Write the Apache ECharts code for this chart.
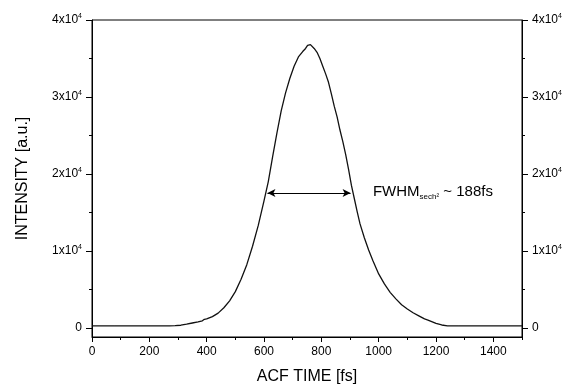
<!DOCTYPE html>
<html>
<head>
<meta charset="utf-8">
<script src="https://cdn.jsdelivr.net/npm/echarts@6/dist/echarts.min.js"></script>
<style>html,body{margin:0;padding:0;background:#fff}#c{width:565px;height:385px}</style>
</head>
<body>
<div id="c"></div>
<script>
const times = [0,40,80,120,160,200,240,270,290,310,330,350,370,385,392,400,420,440,460,480,500,520,540,560,580,600,615,630,645,660,675,690,705,720,735,745,752,757,762,768,775,785,795,805,815,825,835,845,855,865,875,885,895,905,915,925,935,950,965,980,1000,1020,1040,1060,1080,1100,1120,1140,1160,1165,1172,1185,1200,1220,1240,1280,1350,1420,1500];
const intensity = [240,240,235,240,240,240,245,250,270,330,470,620,760,900,1100,1150,1450,1900,2600,3500,4700,6300,8200,10600,13300,16500,19000,22200,25300,28200,30500,32400,34000,35200,35900,36300,36700,36500,36800,36700,36300,35800,35000,34000,33000,31900,30400,28800,27400,25700,24200,22500,20600,18500,16800,15100,13500,11700,10100,8700,7000,5700,4600,3750,3000,2450,1950,1550,1150,1250,1000,800,560,360,250,245,245,245,245];
const xMajorTicks = [0,200,400,600,800,1000,1200,1400];
const xMinorTicks = [100,300,500,700,900,1100,1300,1500];
const yMajorTicks = [0,10000,20000,30000,40000];
const yMinorTicks = [5000,15000,25000,35000];
const fwhmStart = 612, fwhmEnd = 902, fwhmLevel = 17530;
const fwhmText = ['FWHM', 'sech\u00B2', ' ~ 188fs'];

const FONT = '"Liberation Sans", Arial, sans-serif';
const data = times.map((t, i) => [t, intensity[i]]);

function yFmt(v) {
  if (v === 0) return '{b|0}';
  return '{b|' + (v / 10000) + 'x10}{s|4}';
}
const yRich = {
  b: {fontSize: 12, fontFamily: FONT, color: '#000'},
  s: {fontSize: 7, fontFamily: FONT, color: '#000', padding: [0, 0, 7, 0]}
};

function yAx(pos, major) {
  return {
    type: 'value', position: pos, min: -1200, max: 40000,
    axisLine: {show: major, lineStyle: {color: '#000', width: 1}},
    axisTick: {show: true, inside: false, length: major ? 6 : 3, customValues: major ? yMajorTicks : yMinorTicks, lineStyle: {color: '#000', width: 1}},
    axisLabel: major ? {show: true, customValues: yMajorTicks, formatter: yFmt, rich: yRich, margin: 10, color: '#000'} : {show: false},
    splitLine: {show: false},
    name: (major && pos === 'left') ? 'INTENSITY [a.u.]' : '',
    nameLocation: 'middle', nameGap: 61,
    nameTextStyle: {fontSize: 16, fontFamily: FONT, color: '#000'}
  };
}

const chart = echarts.init(document.getElementById('c'), null, {renderer: 'canvas'});
chart.setOption({
  animation: false,
  backgroundColor: '#fff',
  grid: {left: 92, right: 43, top: 20, bottom: 48, show: true, borderColor: '#000', borderWidth: 1, outerBoundsMode: 'none', containLabel: false},
  xAxis: [
    {
      type: 'value', min: 0, max: 1500, position: 'bottom',
      axisLine: {show: true, onZero: false, lineStyle: {color: '#000'}},
      axisTick: {show: true, length: 5, customValues: xMajorTicks, lineStyle: {color: '#000', width: 1}},
      axisLabel: {customValues: xMajorTicks, formatter: v => String(v), fontSize: 12, fontFamily: FONT, color: '#000', margin: 9},
      splitLine: {show: false},
      name: 'ACF TIME [fs]', nameLocation: 'middle', nameGap: 32,
      nameTextStyle: {fontSize: 16, fontFamily: FONT, color: '#000'}
    },
    {
      type: 'value', min: 0, max: 1500, position: 'bottom',
      axisLine: {show: false, onZero: false},
      axisTick: {show: true, length: 3, customValues: xMinorTicks, lineStyle: {color: '#000', width: 1}},
      axisLabel: {show: false},
      splitLine: {show: false}
    }
  ],
  yAxis: [yAx('left', true), yAx('left', false), yAx('right', true), yAx('right', false)],
  series: [{
    type: 'line', data: data, xAxisIndex: 0, yAxisIndex: 0,
    showSymbol: false, symbol: 'none',
    lineStyle: {color: '#111', width: 1.3},
    markLine: {
      silent: true, symbol: ['arrow', 'arrow'], symbolSize: [6, 8],
      label: {show: false},
      lineStyle: {color: '#000', width: 1, type: 'solid'},
      data: [[{coord: [fwhmStart, fwhmLevel]}, {coord: [fwhmEnd, fwhmLevel]}]]
    },
    markPoint: {
      silent: true, symbol: 'circle', symbolSize: 0,
      data: [{coord: [980, 17700]}],
      label: {
        show: true, position: 'inside', align: 'left', verticalAlign: 'middle',
        formatter: '{m|' + fwhmText[0] + '}{s|' + fwhmText[1] + '}{m|' + fwhmText[2] + '}',
        rich: {
          m: {fontSize: 15, fontFamily: FONT, color: '#000'},
          s: {fontSize: 8, fontFamily: FONT, color: '#000', padding: [10, 0, 0, 0]}
        }
      }
    }
  }]
});
</script>
</body>
</html>
